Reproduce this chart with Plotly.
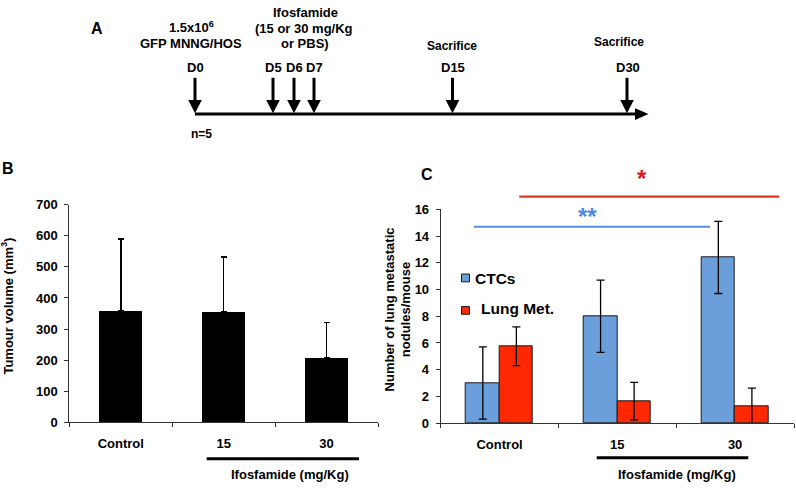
import plotly.graph_objects as go

W, H = 796, 490
FONT = "Liberation Sans, Arial, Helvetica, sans-serif"

# ---------------- data ----------------
# Panel B: tumour volume
b_categories = ["Control", "15", "30"]
b_volume = [358, 354, 206]
b_volume_err = [232, 177, 115]
b_yticks = [0, 100, 200, 300, 400, 500, 600, 700]

# Panel C: CTCs and lung metastatic nodules per mouse
c_categories = ["Control", "15", "30"]
c_ctcs = [3.0, 8.0, 12.4]
c_ctcs_err = [2.7, 2.7, 2.7]
c_lung = [5.75, 1.65, 1.25]
c_lung_err = [1.45, 1.4, 1.37]
c_yticks = [0, 2, 4, 6, 8, 10, 12, 14, 16]

# Panel A: schematic timeline (day labels and their schematic pixel positions)
timeline_days = ["D0", "D5", "D6", "D7", "D15", "D30"]
timeline_pos = [195, 273, 294, 314, 452.5, 627]

BLUE = "#6a9fdc"
RED = "#ff2800"


def px(x):
    return x / W


def py(y):
    return 1 - y / H


fig = go.Figure()

b_x = [i + 0.5 for i in range(len(b_categories))]
c_x = [i + 0.5 for i in range(len(c_categories))]

fig.add_trace(go.Bar(
    x=b_x, y=b_volume, width=0.42, marker=dict(color="black", line=dict(width=0)),
    error_y=dict(type="data", symmetric=False, array=b_volume_err, arrayminus=[0] * 3,
                 color="black", thickness=1.5, width=3),
    xaxis="x", yaxis="y", showlegend=False, name="Tumour volume"))

BW = 0.285
fig.add_trace(go.Bar(
    x=c_x, y=c_ctcs, width=BW, offset=-BW, name="CTCs",
    marker=dict(color=BLUE, line=dict(color="#1a1a1a", width=1)),
    error_y=dict(type="data", array=c_ctcs_err, color="black", thickness=1.3, width=4),
    xaxis="x2", yaxis="y2", showlegend=False))
fig.add_trace(go.Bar(
    x=c_x, y=c_lung, width=BW, offset=0, name="Lung Met.",
    marker=dict(color=RED, line=dict(color="#1a1a1a", width=1)),
    error_y=dict(type="data", array=c_lung_err, color="black", thickness=1.3, width=4),
    xaxis="x2", yaxis="y2", showlegend=False))

tickfont = dict(family=FONT, size=13, color="black", weight="bold")
xcommon = dict(range=[0, 3], showline=True, linecolor="#333", linewidth=1,
               ticks="outside", ticklen=9, tickcolor="rgba(0,0,0,0)",
               minor=dict(tickvals=[0, 1, 2, 3], ticks="outside", ticklen=4,
                          tickcolor="#333", tickwidth=1),
               showgrid=False, zeroline=False, tickfont=tickfont, fixedrange=True)
ycommon = dict(showline=True, linecolor="#333", linewidth=1, ticks="outside",
               ticklen=4, tickcolor="#333", showgrid=False, zeroline=False,
               tickfont=tickfont, ticklabelstandoff=4, fixedrange=True)

fig.update_layout(
    width=W, height=H, autosize=False,
    margin=dict(l=0, r=0, t=0, b=0),
    paper_bgcolor="white", plot_bgcolor="white",
    bargap=0, showlegend=False,
    font=dict(family=FONT, color="black"),
    xaxis=dict(domain=[69.3 / W, 378 / W], tickvals=b_x, ticktext=b_categories, **xcommon),
    yaxis=dict(domain=[py(428.3), py(204)], range=[0, 700], tickvals=b_yticks, **ycommon),
    xaxis2=dict(domain=[440.7 / W, 794 / W], tickvals=c_x, ticktext=c_categories,
                anchor="y2", **xcommon),
    yaxis2=dict(domain=[py(429.3), py(208.7)], range=[0, 16], tickvals=c_yticks,
                anchor="x2", **ycommon),
)

shapes = []
ann = []


def text(x, y, s, size=13, color="black", xanchor="center", angle=0, bold=True):
    ann.append(dict(xref="paper", yref="paper", x=px(x), y=py(y), text=s,
                    showarrow=False, xanchor=xanchor, yanchor="middle", textangle=angle,
                    font=dict(family=FONT, size=size, color=color,
                              weight="bold" if bold else "normal")))


def line(x0, y0, x1, y1, color="black", width=3):
    shapes.append(dict(type="line", xref="paper", yref="paper", x0=px(x0), y0=py(y0),
                       x1=px(x1), y1=py(y1), line=dict(color=color, width=width)))


def poly(pts, color="black"):
    path = "M " + " L ".join(f"{px(a):.5f},{py(b):.5f}" for a, b in pts) + " Z"
    shapes.append(dict(type="path", xref="paper", yref="paper", path=path,
                       fillcolor=color, line=dict(color=color, width=0)))


# ---------------- Panel A ----------------
text(97, 22, "A", size=16)
line(195, 110.5, 637, 110.5, width=3)
poly([(635, 104.5), (648.5, 110.5), (635, 116.5)])
for lab, xp in zip(timeline_days, timeline_pos):
    line(xp, 73, xp, 97, width=3)
    poly([(xp - 6.8, 96), (xp + 6.8, 96), (xp, 109.5)])
    text(xp + (1 if lab == "D30" else 0), 62, lab, size=13)
text(191.5, 21, "1.5x10<sup>6</sup>", size=13)
text(191.3, 38, "GFP MNNG/HOS", size=13)
text(305, 5.5, "Ifosfamide", size=13)
text(303.5, 22.5, "(15 or 30 mg/Kg", size=13)
text(305, 38, "or PBS)", size=13)
text(201, 130.5, "n=5", size=12)
text(451.7, 40, "Sacrifice", size=12)
text(618.8, 36, "Sacrifice", size=12)

# ---------------- Panel B ----------------
text(8, 167, "B", size=16)
text(7.5, 308.5, "Tumour volume (mm<sup>3</sup>)", size=13, angle=-90)
line(206.7, 466, 359, 466, width=3)
text(290, 482, "Ifosfamide (mg/Kg)", size=13)

# ---------------- Panel C ----------------
text(426.7, 173, "C", size=16)
text(398, 312, "Number of lung metastatic<br>nodules/mouse", size=13, angle=-90)
line(596.7, 465, 748.3, 465, width=3)
text(677, 482.5, "Ifosfamide (mg/Kg)", size=13)

# significance bars
line(519.3, 195.7, 779.3, 195.7, color="#d9381e", width=2.2)
line(474, 226.7, 710, 226.7, color="#5590e0", width=2.2)
text(642.3, 177, "*", size=24, color="#e3141c")
text(587.5, 216, "**", size=24, color="#4f86e8")

# manual legend
shapes.append(dict(type="rect", xref="paper", yref="paper", x0=px(461.5), x1=px(469.5),
                   y0=py(283.5), y1=py(275.5), fillcolor=BLUE, line=dict(color="#1a1a1a", width=1)))
shapes.append(dict(type="rect", xref="paper", yref="paper", x0=px(461.5), x1=px(469.5),
                   y0=py(317), y1=py(309), fillcolor=RED, line=dict(color="#1a1a1a", width=1)))
text(473, 280, "CTCs", size=15.5, xanchor="left")
text(479, 311.5, "Lung Met.", size=15.5, xanchor="left")

fig.update_layout(shapes=shapes, annotations=ann)
fig.write_html("out.html", config={"displayModeBar": False},
               post_script="document.body.style.margin='0';document.body.style.overflow='hidden';")
